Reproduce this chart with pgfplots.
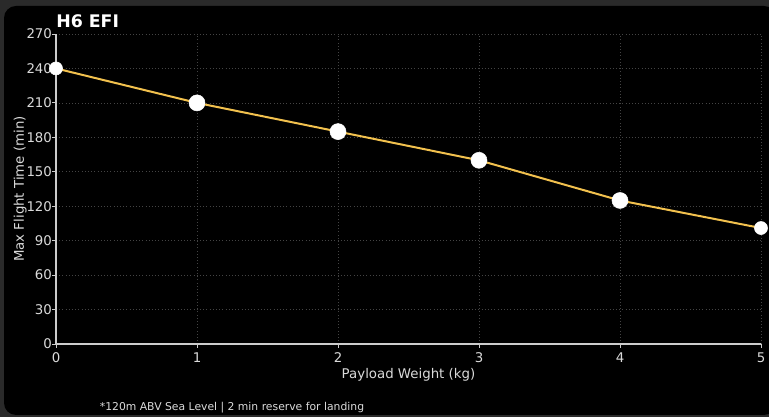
\documentclass[border=0pt]{standalone}
\usepackage{fontspec}
\setmainfont{DejaVu Sans}
\usepackage{pgfplots}
\pgfplotsset{compat=1.18}
\definecolor{framegray}{HTML}{2A2A2A}
\definecolor{ticktext}{HTML}{DADADA}
\definecolor{axisline}{HTML}{CCCCCC}
\definecolor{gridgray}{HTML}{444444}
\definecolor{linegold}{HTML}{F2C14E}

\begin{document}
\begin{tikzpicture}
  % page: 769 x 417 px at 0.75pt per px, origin bottom left
  \useasboundingbox (0pt,0pt) rectangle (576.75pt,312.75pt);
  \fill[framegray] (0pt,0pt) rectangle (576.75pt,312.75pt);
  \fill[black,rounded corners=9pt] (3pt,1.5pt) rectangle (582pt,308.25pt);

  \node[anchor=base west,font=\bfseries\fontsize{13}{15}\selectfont,text=white,inner sep=0pt]
    at (42pt,291.75pt) {H6 EFI};
  \node[anchor=base,font=\fontsize{8.1}{9}\selectfont,text=ticktext,inner sep=0pt]
    at (174pt,4.5pt) {*120m ABV Sea Level | 2 min reserve for landing};

  \begin{axis}[
      at={(42pt,54.75pt)}, anchor=south west,
      scale only axis,
      width=528.75pt, height=232.5pt,
      xmin=0, xmax=5, ymin=0, ymax=270,
      xtick={0,1,2,3,4,5},
      ytick={0,30,60,90,120,150,180,210,240,270},
      axis x line*=bottom, axis y line*=left,
      axis line style={axisline,line width=0.9pt,-},
      tick style={axisline,line width=0.6pt},
      tick align=outside,
      major tick length=3pt,
      grid=major,
      major grid style={gridgray,dotted,line width=0.5pt},
      tick label style={text=ticktext,font=\fontsize{10}{12}\selectfont},
      /pgf/number format/assume math mode=true,
      yticklabel style={xshift=3.5pt},
      label style={text=ticktext,font=\fontsize{10}{12}\selectfont},
      xlabel={Payload Weight (kg)},
      ylabel={Max Flight Time (min)},
      xlabel style={yshift=3pt},
      ylabel style={yshift=-7pt},
      clip=false,
    ]
    \addplot[linegold,line width=1.5pt,mark=none] coordinates {
      (0,240) (1,210) (2,185) (3,160) (4,125) (5,101)
    };
    \addplot[only marks,mark=*,mark size=6pt,mark options={fill=white,draw=white}] coordinates {
      (1,210) (2,185) (3,160) (4,125)
    };
    \addplot[only marks,mark=*,mark size=4.9pt,mark options={fill=white,draw=white}] coordinates {
      (0,240) (5,101)
    };
  \end{axis}
\end{tikzpicture}
\end{document}
